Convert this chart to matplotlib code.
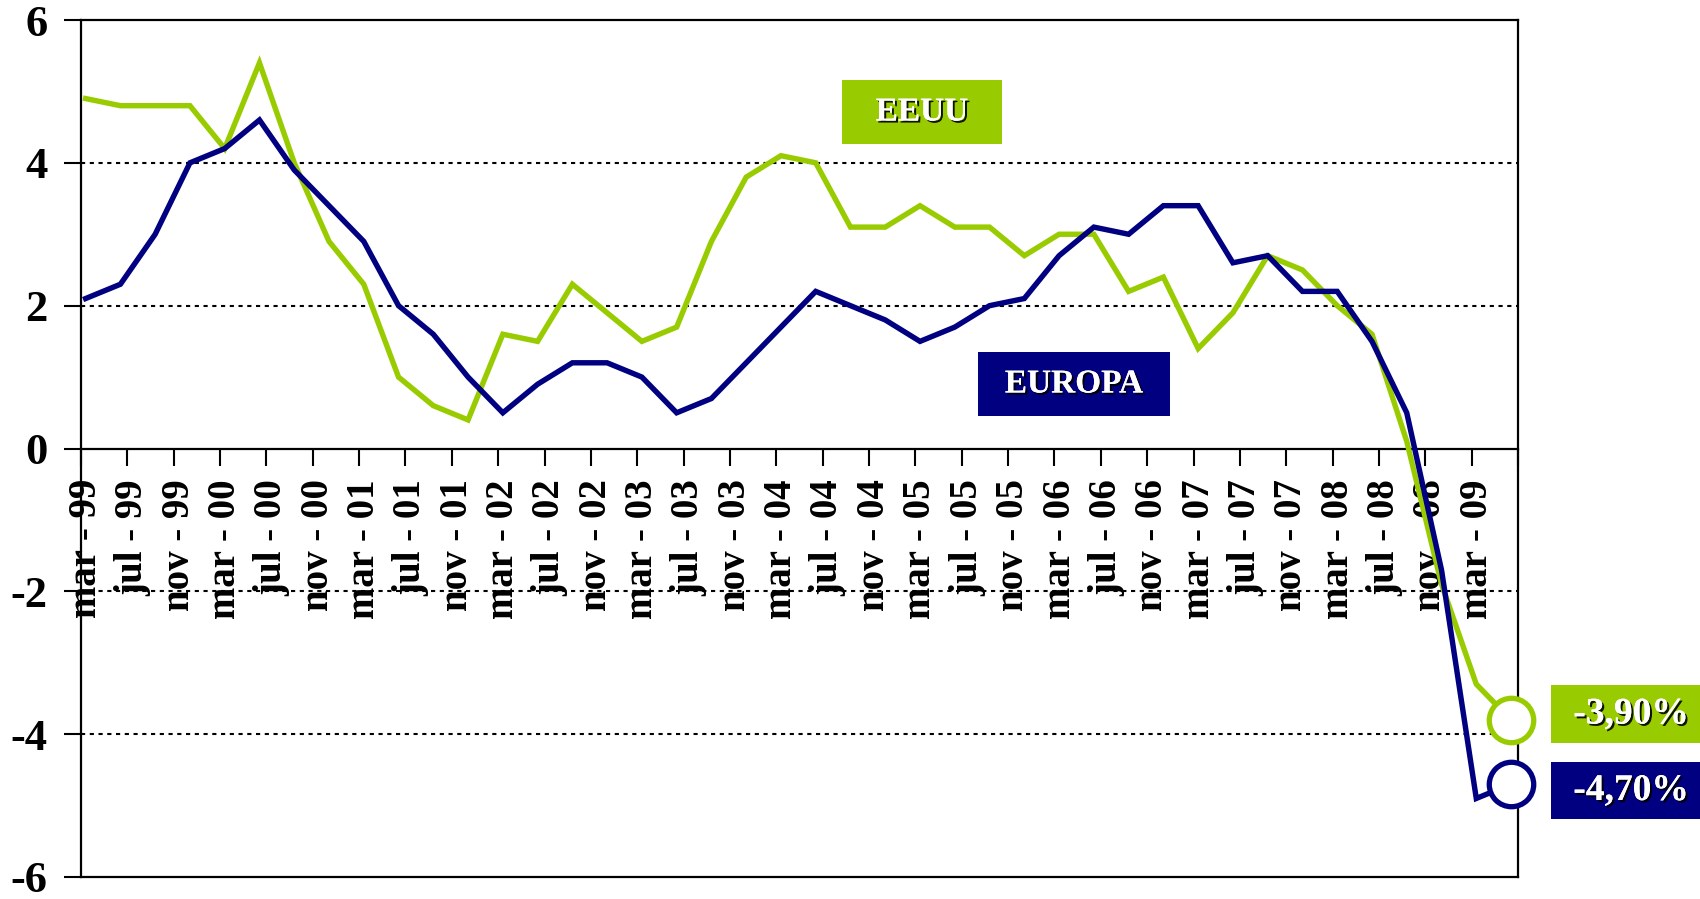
import matplotlib
matplotlib.use("Agg")
import matplotlib.pyplot as plt
import matplotlib.patheffects as pe
from matplotlib.patches import Rectangle
from matplotlib.transforms import ScaledTranslation

# quarterly GDP growth (%), mar-99 .. jun-09
eeuu = [4.9, 4.8, 4.8, 4.8, 4.2, 5.4, 4.0, 2.9, 2.3, 1.0, 0.6, 0.4,
        1.6, 1.5, 2.3, 1.9, 1.5, 1.7, 2.9, 3.8, 4.1, 4.0, 3.1, 3.1,
        3.4, 3.1, 3.1, 2.7, 3.0, 3.0, 2.2, 2.4, 1.4, 1.9, 2.7, 2.5,
        2.0, 1.6, 0.1, -1.9, -3.3, -3.8]
europa = [2.1, 2.3, 3.0, 4.0, 4.2, 4.6, 3.9, 3.4, 2.9, 2.0, 1.6, 1.0,
          0.5, 0.9, 1.2, 1.2, 1.0, 0.5, 0.7, 1.2, 1.7, 2.2, 2.0, 1.8,
          1.5, 1.7, 2.0, 2.1, 2.7, 3.1, 3.0, 3.4, 3.4, 2.6, 2.7, 2.2,
          2.2, 1.5, 0.5, -1.7, -4.9, -4.7]
months = ["mar", "jul", "nov"]
years = ["99", "00", "01", "02", "03", "04", "05", "06", "07", "08", "09"]
tick_labels = [f"{m} - {y}" for y in years for m in months][:31]
labels_end = ["-3,90%", "-4,70%"]

GREEN = "#99CC00"
NAVY = "#000080"
FONT = "Liberation Serif"

W, H = 1700, 899
fig = plt.figure(figsize=(W / 100, H / 100), dpi=100)
ax = fig.add_axes([81 / W, 1 - 877 / H, (1518 - 81) / W, (877 - 20) / H])

# months since mar-99
x = [3 * i + 0.4 for i in range(len(eeuu))]

ax.plot(x, eeuu, color=GREEN, lw=3.9, zorder=3, solid_joinstyle="miter")
ax.plot(x, europa, color=NAVY, lw=3.9, zorder=4, solid_joinstyle="miter")
ax.plot(x[-1], eeuu[-1], "o", ms=32, mew=3.8, mec=GREEN, mfc="white", zorder=5, clip_on=False)
ax.plot(x[-1], europa[-1], "o", ms=32, mew=3.8, mec=NAVY, mfc="white", zorder=5, clip_on=False)

ax.set_xlim(0, 124)
ax.set_ylim(-6, 6)

for yv in [-4, -2, 2, 4]:
    ax.axhline(yv, color="black", lw=1.5, dashes=(2, 2.2), zorder=1)

ax.spines["bottom"].set_position(("data", 0))
for s in ["left", "right", "top", "bottom"]:
    ax.spines[s].set_color("black")
    ax.spines[s].set_linewidth(1.6)
ax.axhline(-6, color="black", lw=1.6, clip_on=False)

ax.set_xticks(range(0, 125, 4))
ax.set_xticklabels(tick_labels + [""], rotation=90, fontsize=28,
                   fontweight="bold", family=FONT)
ax.tick_params(axis="x", direction="out", length=12, width=1.5, pad=10)
shift = ScaledTranslation(4 / 72, 0, fig.dpi_scale_trans)
for lbl in ax.get_xticklabels():
    lbl.set_transform(lbl.get_transform() + shift)

ax.set_yticks([-6, -4, -2, 0, 2, 4, 6])
ax.set_yticklabels(["-6", "-4", "-2", "0", "2", "4", "6"], fontsize=32,
                   fontweight="bold", family=FONT)
ax.tick_params(axis="y", direction="out", length=12, width=1.5, pad=12)

shadow = [pe.withSimplePatchShadow(offset=(1.5, -1.5), shadow_rgbFace="black", alpha=0.9),
          pe.Normal()]


def label_box(x0, y0, x1, y1, color, text, tx=None, size=24):
    fig.patches.append(Rectangle((x0 / W, 1 - y1 / H), (x1 - x0) / W, (y1 - y0) / H,
                                 transform=fig.transFigure, facecolor=color,
                                 edgecolor="none", zorder=6))
    cx = (x0 + x1) / 2 if tx is None else tx
    fig.text(cx / W, 1 - (y0 + y1) / 2 / H, text, color="white", fontsize=size,
             fontweight="bold", family=FONT, ha="center", va="center",
             path_effects=shadow, zorder=7)


label_box(842, 80, 1002, 144, GREEN, "EEUU")
label_box(978, 352, 1170, 416, NAVY, "EUROPA")
label_box(1551, 685, 1700, 743, GREEN, labels_end[0], tx=1631, size=27)
label_box(1551, 762, 1700, 819, NAVY, labels_end[1], tx=1631, size=27)

fig.savefig("out.png", dpi=100)
